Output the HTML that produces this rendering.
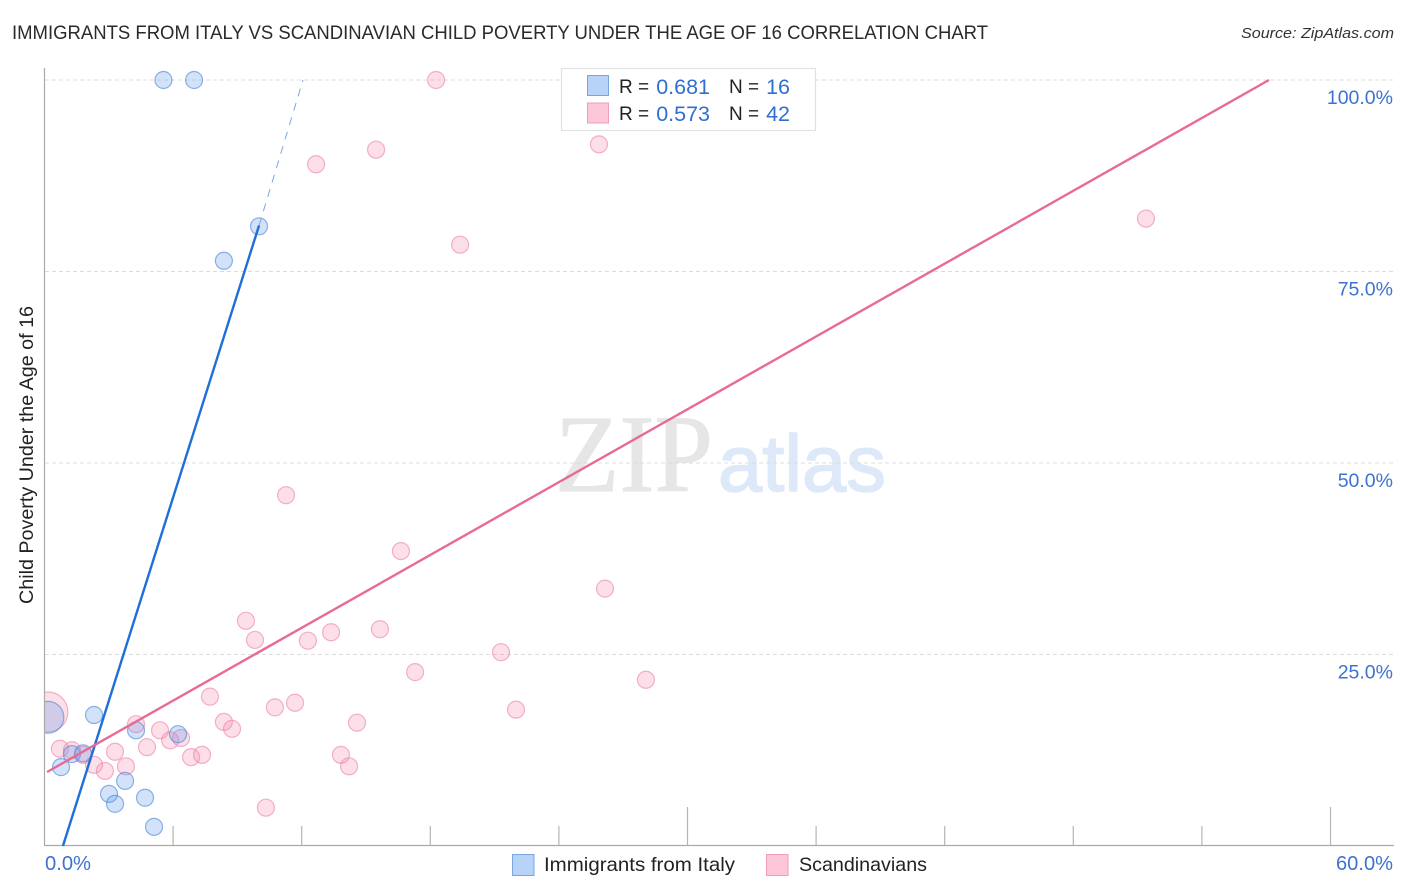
<!DOCTYPE html>
<html>
<head>
<meta charset="utf-8">
<title>Immigrants from Italy vs Scandinavian Child Poverty Correlation Chart</title>
<style>
html,body{margin:0;padding:0;background:#fff;}
svg{display:block;}
text{font-family:"Liberation Sans",sans-serif;}
</style>
</head>
<body>
<svg id="chart" width="1406" height="892" viewBox="0 0 1406 892" xmlns="http://www.w3.org/2000/svg">
  <rect x="0" y="0" width="1406" height="892" fill="#fff"/>
  <text x="12" y="39" font-size="19.5" fill="#2a2a2a" textLength="976" lengthAdjust="spacingAndGlyphs">IMMIGRANTS FROM ITALY VS SCANDINAVIAN CHILD POVERTY UNDER THE AGE OF 16 CORRELATION CHART</text>
  <text x="1394" y="38" font-size="15" font-style="italic" fill="#333" text-anchor="end" textLength="153" lengthAdjust="spacingAndGlyphs">Source: ZipAtlas.com</text>

  <g>
    <text x="555" y="491" style="font-family:'Liberation Serif',serif" font-size="110" fill="#e6e6e6" stroke="#e6e6e6" stroke-width="1" textLength="158" lengthAdjust="spacingAndGlyphs">ZIP</text>
    <text x="718" y="491" font-size="80" fill="#dde9f9" stroke="#dde9f9" stroke-width="1.5" textLength="168" lengthAdjust="spacingAndGlyphs">atlas</text>
  </g>

  <g id="grid"></g>
  <g id="points"></g>
  <rect x="0" y="60" width="44.5" height="786" fill="#fff"/>
  <g id="axes"></g>
  <g id="trends"></g>
  <g id="labels"></g>

  <text transform="translate(33,604) rotate(-90)" font-size="19.5" fill="#222" textLength="298" lengthAdjust="spacingAndGlyphs">Child Poverty Under the Age of 16</text>

  <g>
    <rect x="561.5" y="68.5" width="254" height="62" fill="#fff" stroke="#e2e2e2" stroke-width="1.2"/>
    <rect x="587.5" y="75.5" width="21" height="20" fill="#b8d3f8" stroke="#7aa6df" stroke-width="1"/>
    <rect x="587.5" y="103" width="21" height="20" fill="#fdc6d9" stroke="#ef9db8" stroke-width="1"/>
    <text x="619" y="93" font-size="19" fill="#222">R =</text>
    <text x="710" y="94" font-size="21.5" fill="#2f6fd0" text-anchor="end">0.681</text>
    <text x="729" y="93" font-size="19" fill="#222">N =</text>
    <text x="790" y="94" font-size="21.5" fill="#2f6fd0" text-anchor="end">16</text>
    <text x="619" y="120" font-size="19" fill="#222">R =</text>
    <text x="710" y="121" font-size="21.5" fill="#2f6fd0" text-anchor="end">0.573</text>
    <text x="729" y="120" font-size="19" fill="#222">N =</text>
    <text x="790" y="121" font-size="21.5" fill="#2f6fd0" text-anchor="end">42</text>
  </g>

  <g>
    <rect x="512.5" y="854.5" width="21.5" height="21" fill="#b8d3f8" stroke="#7aa6df" stroke-width="1"/>
    <text x="544" y="871" font-size="19.5" fill="#222" textLength="191" lengthAdjust="spacingAndGlyphs">Immigrants from Italy</text>
    <rect x="766.5" y="854.5" width="21.5" height="21" fill="#fdc6d9" stroke="#ef9db8" stroke-width="1"/>
    <text x="799" y="871" font-size="19.5" fill="#222" textLength="128" lengthAdjust="spacingAndGlyphs">Scandinavians</text>
  </g>
</svg>
<script>
const yTicks = [25, 50, 75, 100];
const yTickLabels = ["25.0%", "50.0%", "75.0%", "100.0%"];
const xTicks = [0, 6, 12, 18, 24, 30, 36, 42, 48, 54, 60];
const xMajorTicks = [30, 60];
const xEndLabels = ["0.0%", "60.0%"];

const italyX = [5.55, 6.98, 10.01, 8.37, 2.31, 4.27, 6.23, 1.28, 1.80, 0.77, 3.76, 3.01, 3.29, 4.69, 5.11, 0.16];
const italyY = [100, 100, 80.9, 76.4, 17.1, 15.1, 14.6, 12.0, 12.1, 10.3, 8.5, 6.8, 5.5, 6.3, 2.5, 16.8];
const italySize = [1, 1, 1, 1, 1, 1, 1, 1, 1, 1, 1, 1, 1, 1, 1, 3.5];

const scandX = [18.27, 15.47, 12.67, 25.87, 19.39, 51.39, 11.27, 16.63, 26.15, 9.40, 9.82, 12.29, 13.37, 15.65, 21.30, 17.29, 28.06, 7.72, 10.75, 11.69, 22.0, 8.37, 8.75, 14.58, 4.27, 5.39, 6.37, 5.86, 4.78, 6.84, 7.35, 13.83, 14.21, 3.29, 0.72, 1.28, 1.80, 2.31, 2.82, 3.80, 10.33, 0.16];
const scandY = [100, 90.9, 89.0, 91.6, 78.5, 81.9, 45.8, 38.5, 33.6, 29.4, 26.9, 26.8, 27.9, 28.3, 25.3, 22.7, 21.7, 19.5, 18.1, 18.7, 17.8, 16.2, 15.3, 16.1, 15.9, 15.1, 14.1, 13.8, 12.9, 11.6, 11.9, 11.9, 10.4, 12.3, 12.7, 12.5, 11.9, 10.6, 9.8, 10.4, 5.0, 17.5];
const scandSize = [1, 1, 1, 1, 1, 1, 1, 1, 1, 1, 1, 1, 1, 1, 1, 1, 1, 1, 1, 1, 1, 1, 1, 1, 1, 1, 1, 1, 1, 1, 1, 1, 1, 1, 1, 1, 1, 1, 1, 1, 1, 5.5];

const italyTrendX = [0.86, 10.01];
const italyTrendY = [0, 81];
const italyTrendDashX = [10.01, 12.06];
const italyTrendDashY = [81, 100];
const scandTrendX = [0.12, 57.13];
const scandTrendY = [9.66, 100];

const NS = "http://www.w3.org/2000/svg";
function xScale(v) { return 44.5 + v * (1330.5 - 44.5) / 60; }
function yScale(v) { return 846 - v * 7.66; }
function make(parentId, tag, attrs) {
  const el = document.createElementNS(NS, tag);
  for (const k in attrs) el.setAttribute(k, attrs[k]);
  document.getElementById(parentId).appendChild(el);
  return el;
}

yTicks.forEach(function (t, i) {
  const gl = make("grid", "line", {x1: 45, x2: 1393, y1: yScale(t), y2: yScale(t), stroke: "#dcdcdc", "stroke-width": 1, "stroke-dasharray": "4 3"});
  
  
  const lb = make("labels", "text", {x: 1393, y: yScale(t) + 24, "font-size": 19.5, fill: "#3d72d0", "text-anchor": "end"});
  lb.textContent = yTickLabels[i];
  
  
});

const yAxis = make("axes", "line", {x1: 44.5, x2: 44.5, y1: 68, y2: 846, stroke: "#aaa", "stroke-width": 1.2});


const xAxis = make("axes", "line", {x1: 44, x2: 1394, y1: 845.5, y2: 845.5, stroke: "#aaa", "stroke-width": 1.2});



xTicks.forEach(function (t) {
  if (t === 0) return;
  const major = xMajorTicks.indexOf(t) >= 0;
  const tk = make("axes", "line", {x1: xScale(t), x2: xScale(t), y1: major ? 807 : 826, y2: 845, stroke: "#b5b5b5", "stroke-width": 1.2});
  
  
});

const x0Label = make("labels", "text", {x: 45, y: 870, "font-size": 20, fill: "#3d72d0", textLength: 46, lengthAdjust: "spacingAndGlyphs"});
x0Label.textContent = xEndLabels[0];


const x60Label = make("labels", "text", {x: 1336, y: 870, "font-size": 20, fill: "#3d72d0", textLength: 57, lengthAdjust: "spacingAndGlyphs"});
x60Label.textContent = xEndLabels[1];



scandX.forEach(function (v, i) {
  const c = make("points", "circle", {cx: xScale(v), cy: yScale(scandY[i]), r: 8.5 * Math.sqrt(scandSize[i]), fill: "rgba(245,140,175,0.28)", stroke: "rgba(235,130,165,0.6)", "stroke-width": 1.2});
  
  
});
italyX.forEach(function (v, i) {
  const c = make("points", "circle", {cx: xScale(v), cy: yScale(italyY[i]), r: 8.5 * Math.sqrt(italySize[i]), fill: "rgba(105,160,235,0.3)", stroke: "rgba(70,130,215,0.6)", "stroke-width": 1.2});
  
  
});

const trendDash = make("trends", "line", {x1: xScale(italyTrendDashX[0]), y1: yScale(italyTrendDashY[0]), x2: xScale(italyTrendDashX[1]), y2: yScale(italyTrendDashY[1]), stroke: "#7ba5e4", "stroke-width": 1, "stroke-dasharray": "8 7"});


const trendItaly = make("trends", "line", {x1: xScale(italyTrendX[0]), y1: yScale(italyTrendY[0]), x2: xScale(italyTrendX[1]), y2: yScale(italyTrendY[1]), stroke: "#1f6fd8", "stroke-width": 2.4});


const trendScand = make("trends", "line", {x1: xScale(scandTrendX[0]), y1: yScale(scandTrendY[0]), x2: xScale(scandTrendX[1]), y2: yScale(scandTrendY[1]), stroke: "#e96a94", "stroke-width": 2.4});


</script>
</body>
</html>
